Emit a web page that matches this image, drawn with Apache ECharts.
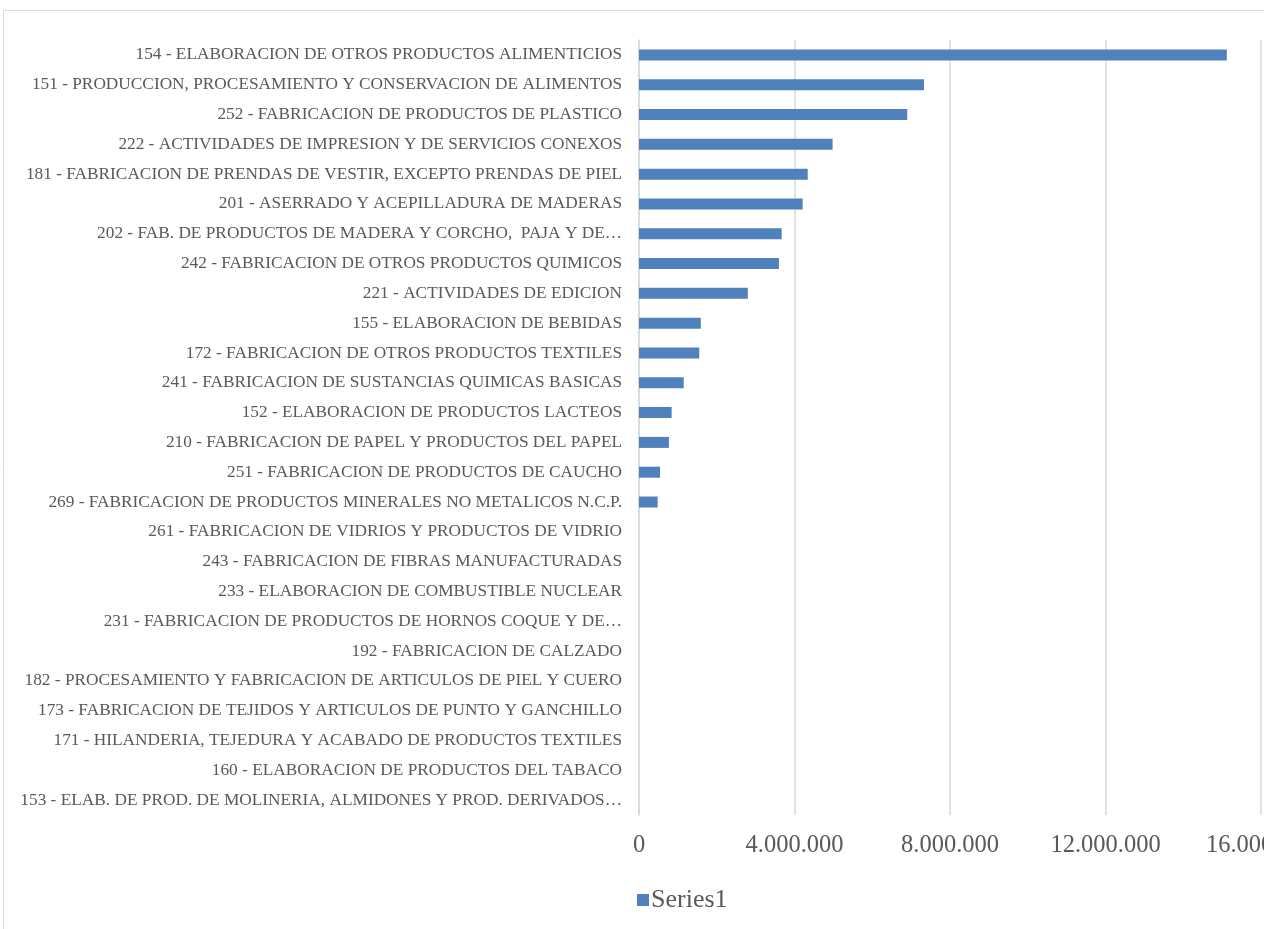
<!DOCTYPE html>
<html>
<head>
<meta charset="utf-8">
<script src="https://cdn.jsdelivr.net/npm/echarts@6/dist/echarts.min.js"></script>
<style>
  html, body { margin: 0; padding: 0; background: #ffffff; }
  #chart { width: 1264px; height: 929px; }
</style>
</head>
<body>
<div id="chart"></div>
<script>
// Industry branches (ISIC codes), top to bottom
const categories = [
  '154 - ELABORACION DE OTROS PRODUCTOS ALIMENTICIOS',
  '151 - PRODUCCION, PROCESAMIENTO Y CONSERVACION DE ALIMENTOS',
  '252 - FABRICACION DE PRODUCTOS DE PLASTICO',
  '222 - ACTIVIDADES DE IMPRESION Y DE SERVICIOS CONEXOS',
  '181 - FABRICACION DE PRENDAS DE VESTIR, EXCEPTO PRENDAS DE PIEL',
  '201 - ASERRADO Y ACEPILLADURA DE MADERAS',
  '202 - FAB. DE PRODUCTOS DE MADERA Y CORCHO,  PAJA Y DE…',
  '242 - FABRICACION DE OTROS PRODUCTOS QUIMICOS',
  '221 - ACTIVIDADES DE EDICION',
  '155 - ELABORACION DE BEBIDAS',
  '172 - FABRICACION DE OTROS PRODUCTOS TEXTILES',
  '241 - FABRICACION DE SUSTANCIAS QUIMICAS BASICAS',
  '152 - ELABORACION DE PRODUCTOS LACTEOS',
  '210 - FABRICACION DE PAPEL Y PRODUCTOS DEL PAPEL',
  '251 - FABRICACION DE PRODUCTOS DE CAUCHO',
  '269 - FABRICACION DE PRODUCTOS MINERALES NO METALICOS N.C.P.',
  '261 - FABRICACION DE VIDRIOS Y PRODUCTOS DE VIDRIO',
  '243 - FABRICACION DE FIBRAS MANUFACTURADAS',
  '233 - ELABORACION DE COMBUSTIBLE NUCLEAR',
  '231 - FABRICACION DE PRODUCTOS DE HORNOS COQUE Y DE…',
  '192 - FABRICACION DE CALZADO',
  '182 - PROCESAMIENTO Y FABRICACION DE ARTICULOS DE PIEL Y CUERO',
  '173 - FABRICACION DE TEJIDOS Y ARTICULOS DE PUNTO Y GANCHILLO',
  '171 - HILANDERIA, TEJEDURA Y ACABADO DE PRODUCTOS TEXTILES',
  '160 - ELABORACION DE PRODUCTOS DEL TABACO',
  '153 - ELAB. DE PROD. DE MOLINERIA, ALMIDONES Y PROD. DERIVADOS…'
];

const series1 = [
  15120000, 7330000, 6900000, 4980000, 4340000, 4210000, 3670000,
  3600000, 2800000, 1590000, 1550000, 1150000, 840000, 770000,
  540000, 480000, 0, 0, 0, 0, 0, 0, 0, 0, 0, 0
];

// x axis ticks
const xMin = 0;
const xMax = 16000000;
const xStep = 4000000;

const FONT = '"Liberation Serif", "DejaVu Serif", serif';
const TEXT = '#595959';
const GRID = '#d9d9d9';

function thousands(v) {
  return String(Math.round(v)).replace(/\B(?=(\d{3})+(?!\d))/g, '.');
}

const chart = echarts.init(document.getElementById('chart'), null, { renderer: 'canvas' });
chart.setOption({
  animation: false,
  backgroundColor: '#ffffff',
  textStyle: { fontFamily: FONT },
  graphic: [{
    type: 'rect',
    silent: true,
    shape: { x: 3.5, y: 10.5, width: 1400, height: 1000 },
    style: { fill: 'none', stroke: GRID, lineWidth: 1 },
    z: -1
  }],
  grid: {
    left: 639, right: 3, top: 40, bottom: 114,
    containLabel: false,
    outerBoundsMode: 'none'
  },
  legend: {
    data: ['Series1'],
    left: 632,
    top: 882,
    itemWidth: 12,
    itemHeight: 12,
    itemGap: 5,
    icon: 'rect',
    textStyle: { color: TEXT, fontFamily: FONT, fontSize: 26, padding: [0, 0, 0, -3] }
  },
  xAxis: {
    type: 'value',
    min: xMin,
    max: xMax,
    interval: xStep,
    axisLine: { show: false },
    axisTick: { show: false },
    splitLine: { show: true, lineStyle: { color: GRID, width: 1.5 } },
    axisLabel: {
      color: TEXT, fontFamily: FONT, fontSize: 24.5, margin: 18,
      showMaxLabel: true, hideOverlap: false,
      formatter: thousands
    }
  },
  yAxis: {
    type: 'category',
    data: categories,
    inverse: true,
    axisLine: { show: true, lineStyle: { color: GRID, width: 1.5 } },
    axisTick: { show: false },
    axisLabel: { color: TEXT, fontFamily: FONT, fontSize: 17.3, margin: 17, interval: 0 }
  },
  series: [{
    name: 'Series1',
    type: 'bar',
    data: series1,
    barWidth: 11,
    itemStyle: { color: '#4f81bd' }
  }]
});
</script>
</body>
</html>
